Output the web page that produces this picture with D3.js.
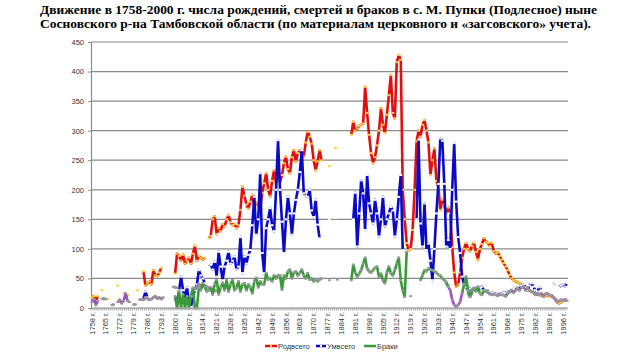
<!DOCTYPE html>
<html><head><meta charset="utf-8">
<script src="https://cdn.jsdelivr.net/npm/d3@7/dist/d3.min.js"></script>
<style>html,body{margin:0;padding:0;background:#fff;}svg{display:block;}</style>
</head><body>
<svg id="chart" width="640" height="360"></svg>
<script>
const titleLines = [
  "Движение в 1758-2000 г. числа рождений, смертей и браков в с. М. Пупки (Подлесное) ныне",
  "Сосновского р-на Тамбовской области (по материалам церковного и «загсовского» учета)."
];
const firstYear = 1758, lastYear = 1998;
const years = d3.range(firstYear, lastYear + 1);
const tickYears = [1758,1765,1772,1779,1786,1793,1800,1807,1814,1821,1828,1835,1842,1849,1856,1863,1870,1877,1884,1891,1898,1905,1912,1919,1926,1933,1940,1947,1954,1961,1968,1975,1982,1989,1996];
const yTicks = [0,50,100,150,200,250,300,350,400,450];
const N = null;

// Родвсего (births), 1758..1998
const births = [
  18, 20,
  12, 20, N, 30, N, N, 15, N, N, N,
  N, 38, N, N, 25, N, 22, N, N, N,
  N, 30, N, N, 62, 38, 42, 45, 40, 64,
  55, 54, 60, 68, N, N, N, N, N, N,
  58, 92, 88, 80, 90, 75, 80, 85, 75, 92,
  105, 80, 88, 85, 82, 85, N, 118, 122, 150,
  155, 125, 135, 130, 142, 138, 150, 157, 145, 140,
  142, 135, 140, 166, 205, 190, 175, 168, 180, 191,
  172, 178, 175, 166, 195, 211, 228, 200, 189, 215,
  233, 210, 240, 213, 225, 245, 256, 235, 228, 255,
  267, 248, 262, 267, 260, 256, 280, 298, 290, 278,
  250, 233, 248, 267, 250, N, N, N, 240, N,
  N, 270, N, N, N, N, N, N, N, 293,
  315, 300, 304, 308, 310, 312, 374, 330, 293, 262,
  245, 255, 275, 300, 338, 310, 296, 327, 360, 394,
  330, 321, 416, 428, 420, 200, 150, 110, 98, 100,
  132, 200, 282, 300, 290, 310, 318, 300, 280, 225,
  250, 270, 215, 205, 166, 183, 175, 160, 170, 160,
  103, 60, 36, 40, 60, 85, 100, 110, 100, 96,
  105, 110, 95, 82, 100, 108, 118, 112, 110, 105,
  110, 96, 92, 94, 88, 82, 76, 70, 64, 56,
  50, 47, 45, 43, 42, 40, 38, 36, 33, 30,
  28, 27, 25, 23, 22, 21, 20, 20, 22, 20,
  21, 19, 15, 10, 8, 10, 12, 14, 13
];
// Умвсего (deaths)
const deaths = [
  N, N,
  N, N, N, N, N, N, N, N, N, N,
  N, N, N, N, N, N, N, N, N, N,
  N, N, N, N, 15, 28, 18, 12, N, N,
  N, N, N, N, N, N, N, N, N, N,
  20, 5, 30, 53, 30, 15, 35, 10, 2, 20,
  30, 40, 64, 55, 50, 42, N, 70, 73, 65,
  78, 53, 95, 70, 47, 70, 80, 95, 75, 80,
  87, 65, 70, 120, 59, 87, 75, 90, 98, 140,
  188, 124, 150, 228, 93, 59, 135, 150, 169, 140,
  130, 200, 284, 200, 146, 93, 150, 188, 160, 124,
  160, 183, 200, 230, 267, 194, 190, 188, 200, 165,
  154, 183, 141, 118, N, N, N, N, 150, N,
  N, 152, N, N, N, N, N, N, 174, N,
  150, 195, 104, 160, 216, 194, 132, 225, 177, 160,
  143, 183, 160, 121, 150, 188, 138, 150, 160, 171,
  165, 121, 150, 188, 225, 98, N, N, N, N,
  N, N, 150, 285, 143, 104, 177, 98, 109, 80,
  47, 100, 160, 210, 287, 283, 210, 104, 115, 100,
  200, 279, 180, 120, 93, 53, 40, 35, 30, 33,
  28, 35, 32, 30, 34, 36, 30, 28, 26, 24,
  26, 25, 24, 22, 25, 24, 26, 25, 28, 26,
  30, 32, 30, 35, 32, 38, 40, 35, 30, 38,
  42, 36, 30, 28, 35, 30, N, 32, N, 38,
  N, 40, 42, N, 35, 38, 40, 36, 42
];
// Браки (marriages)
const marriages = [
  N, N,
  N, N, N, N, N, N, N, N, N, N,
  N, N, N, N, N, N, N, N, N, N,
  N, N, N, N, N, N, N, N, N, N,
  N, N, N, N, N, N, N, N, N, N,
  20, 0, 28, 0, 23, 0, 20, 0, 20, 34,
  0, 0, 34, 30, 42, 35, 28, 30, 35, 23,
  40, 48, 23, 35, 42, 30, 48, 28, 40, 48,
  30, 34, 45, 28, 40, 42, 30, 40, 35, 25,
  45, 51, 35, 45, 40, 40, 59, 48, 51, 45,
  55, 50, 55, 55, 31, 55, 50, 62, 65, 50,
  60, 62, 55, 59, 65, 55, 50, 59, 48, 50,
  45, 48, 45, 48, 50, N, N, N, 47, N,
  N, N, 48, N, N, N, N, N, N, 47,
  73, 60, 53, 58, 64, 75, 85, 67, 62, 60,
  64, 68, 70, 53, 58, 47, 42, 60, 70, 59,
  55, 64, 75, 85, 47, 30, 19, 95, N, 20,
  N, N, N, N, 47, 55, 64, 62, 67, 65,
  64, 62, 60, 56, 55, 50, 47, 44, 36, N,
  N, N, N, N, N, 25, 40, 53, 30, 19,
  30, 33, 28, 36, 25, 22, 30, 28, 30, N,
  N, N, N, N, N, N, 22, 20, 25, N,
  N, N, 30, 33, N, N, N, N, N, 30,
  28, 26, N, N, N, N, N, N, N, N,
  N, N, N, N, N, N, N, N, N
];
// second marriages record (purple, not in legend)
const marriages2 = [
  10, 15,
  5, 12, N, 15, 16, 15, N, N, 5, 6,
  N, 10, 14, 8, 12, 25, 12, 10, N, 6,
  6, N, 14, 15, 14, 18, 16, 14, 15, 18,
  20, 16, 18, 15, 18, N, N, N, N, 36,
  35, 34, N, N, N, N, N, N, N, N,
  32, 36, 40, 38, 36, 38, 36, 34, 30, 32,
  30, 28, N, N, N, N, N, N, N, N,
  N, N, N, N, N, N, N, N, N, N,
  N, N, N, N, N, N, N, N, N, N,
  N, N, N, N, N, N, N, N, N, N,
  N, N, N, N, N, N, N, N, N, N,
  N, N, N, N, N, N, N, N, N, N,
  N, N, N, N, N, N, N, N, N, N,
  N, N, N, N, N, N, N, N, N, N,
  N, N, N, N, N, N, N, N, N, N,
  N, N, N, N, N, N, N, N, N, N,
  N, N, N, N, N, N, N, N, N, N,
  N, N, N, N, N, N, N, 42, 36, 30,
  14, 5, 2, 5, 10, 25, N, N, 25, 19,
  25, N, N, N, N, N, N, N, 26, 24,
  22, 24, 22, 21, 23, 22, 22, 20, 25, 28,
  30, 26, 30, 33, 30, 35, 36, 30, 34, 30,
  28, 26, 22, 25, 23, 25, 20, 24, 25, 22,
  22, 18, 15, 11, 12, 14, 13, 14, 12
];
const legendNames = ["Родвсего", "Умвсего", "Браки"];

const svg = d3.select("#chart");
const pL = 91, pR = 568, pT = 42, pB = 308;

const x = d3.scaleBand().domain(years).range([pL, pR]).paddingInner(0).paddingOuter(0);
const cx = yr => x(yr) + x.bandwidth() / 2;
const y = d3.scaleLinear().domain([0, 450]).range([pB, pT]);

// title
svg.selectAll("text.title").data(titleLines).enter().append("text")
  .attr("class", "title")
  .attr("x", 40).attr("y", (d, i) => 14 + i * 14)
  .attr("textLength", (d, i) => i === 0 ? 557 : 551)
  .attr("lengthAdjust", "spacingAndGlyphs")
  .style("font-family", "'Liberation Serif', 'Times New Roman', serif")
  .style("font-weight", "bold").style("font-size", "13.5px").attr("fill", "#000")
  .text(d => d);

// gridlines
svg.append("g").selectAll("line").data(yTicks.filter(v => v > 0)).enter().append("line")
  .attr("x1", pL).attr("x2", pR).attr("y1", d => y(d)).attr("y2", d => y(d))
  .attr("stroke", "#8a8a8a").attr("stroke-width", 1.2);

// y axis
const yAxis = d3.axisLeft(y).tickValues(yTicks).tickSize(3).tickPadding(4);
const gy = svg.append("g").attr("transform", `translate(${pL},0)`).call(yAxis);
gy.select(".domain").attr("stroke", "#8a8a8a").attr("stroke-width", 1.2);
gy.selectAll(".tick line").attr("stroke", "#8a8a8a");
gy.selectAll("text").style("font-family", "Arial, 'Liberation Sans', sans-serif")
  .style("font-size", "7.5px").attr("fill", "#333");

// x axis with category ticks
const gx = svg.append("g");
gx.append("line").attr("x1", pL).attr("x2", pR).attr("y1", pB).attr("y2", pB)
  .attr("stroke", "#8a8a8a").attr("stroke-width", 1.2);
gx.selectAll("line.ct").data(years).enter().append("line").attr("class", "ct")
  .attr("x1", d => x(d)).attr("x2", d => x(d)).attr("y1", pB).attr("y2", pB + 2.5)
  .attr("stroke", "#8a8a8a").attr("stroke-width", 0.8);
gx.selectAll("text").data(tickYears).enter().append("text")
  .attr("transform", d => `translate(${cx(d) + 2.6},${pB + 4}) rotate(-90)`)
  .attr("text-anchor", "end")
  .style("font-family", "Arial, 'Liberation Sans', sans-serif").style("font-size", "7.5px")
  .attr("fill", "#333").text(d => d + " г.");

// series
const series = [
  {vals: births, color: "#e01010", marker: "#ffcf40", w: 2.6},
  {vals: deaths, color: "#0a0ac8", marker: "#ffffff", w: 2.6},
  {vals: marriages2, color: "#9b4fc4", marker: "#9a9a9a", w: 2.6},
  {vals: marriages, color: "#3a9a3a", marker: "#9a9a9a", w: 2.6}
];
const line = d3.line().defined(d => d.v != null).x(d => cx(d.yr)).y(d => y(d.v));
series.forEach(s => {
  const pts = years.map((yr, i) => ({yr, v: s.vals[i]}));
  svg.append("path").datum(pts).attr("d", line).attr("fill", "none")
    .attr("stroke", s.color).attr("stroke-width", s.w).attr("stroke-linejoin", "round");
  svg.append("g").selectAll("rect").data(pts.filter(d => d.v != null)).enter().append("rect")
    .attr("x", d => cx(d.yr) - 1.4).attr("y", d => y(d.v) - 1)
    .attr("width", 2.8).attr("height", 2).attr("fill", s.marker);
});

// legend
const legend = [
  {name: legendNames[0], color: "#e01010", marker: "#ffcf40", x1: 265, x2: 277, tx: 278},
  {name: legendNames[1], color: "#0a0ac8", marker: "#ffffff", x1: 316, x2: 326, tx: 327},
  {name: legendNames[2], color: "#3a9a3a", marker: null, x1: 364, x2: 376, tx: 377}
];
const lg = svg.append("g");
legend.forEach(l => {
  lg.append("line").attr("x1", l.x1).attr("x2", l.x2).attr("y1", 346).attr("y2", 346)
    .attr("stroke", l.color).attr("stroke-width", 2.5);
  if (l.marker) lg.append("rect").attr("x", (l.x1 + l.x2) / 2 - 1).attr("y", 345)
    .attr("width", 2).attr("height", 2).attr("fill", l.marker);
  lg.append("text").attr("x", l.tx).attr("y", 348.5)
    .style("font-family", "Arial, 'Liberation Sans', sans-serif").style("font-size", "7.5px")
    .attr("fill", "#333").text(l.name);
});
</script>
</body></html>
